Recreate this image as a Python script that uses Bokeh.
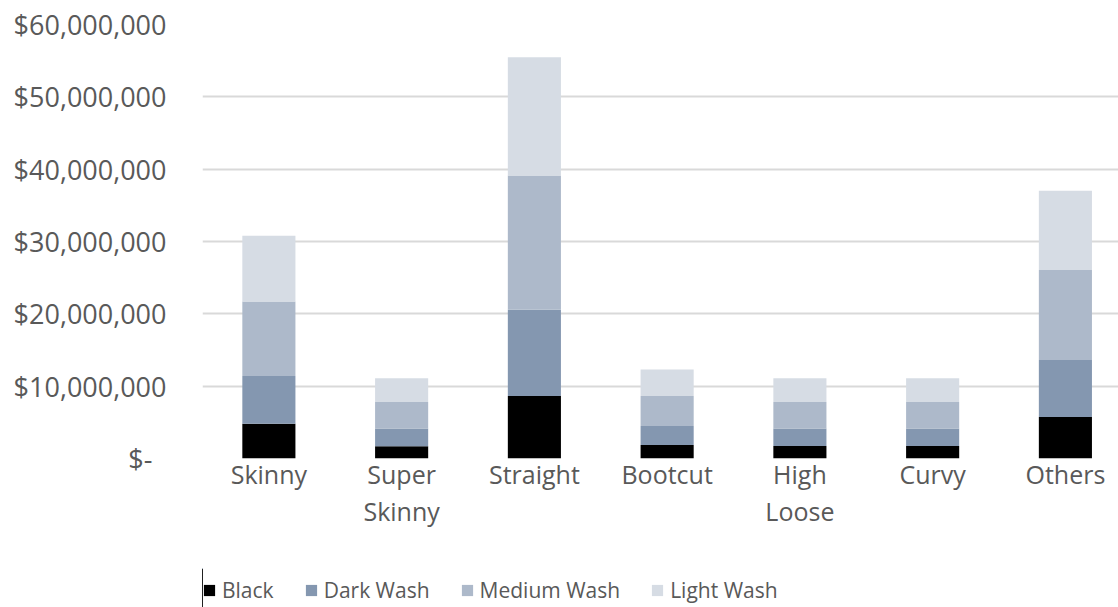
from bokeh.plotting import figure
from bokeh.layouts import column
from bokeh.models import (Range1d, FixedTicker, NumeralTickFormatter, Legend, LegendItem,
                          ColumnDataSource)
from bokeh.embed import file_html
from bokeh.resources import INLINE

# Jeans revenue by fit, split by wash
categories = ["Skinny", "Super Skinny", "Straight", "Bootcut", "High Loose", "Curvy", "Others"]
tick_labels = ["Skinny", "Super\nSkinny", "Straight", "Bootcut", "High\nLoose", "Curvy", "Others"]
black = [4_800_000, 1_700_000, 8_650_000, 1_880_000, 1_720_000, 1_720_000, 5_750_000]
dark_wash = [6_600_000, 2_440_000, 11_930_000, 2_620_000, 2_420_000, 2_420_000, 7_870_000]
medium_wash = [10_300_000, 3_680_000, 18_550_000, 4_150_000, 3_680_000, 3_680_000, 12_430_000]
light_wash = [9_100_000, 3_270_000, 16_340_000, 3_640_000, 3_270_000, 3_270_000, 10_970_000]
y_ticks = [0, 10_000_000, 20_000_000, 30_000_000, 40_000_000, 50_000_000, 60_000_000]

series = ["Black", "Dark Wash", "Medium Wash", "Light Wash"]
colors = ["#000000", "#8497B0", "#ADB9CA", "#D6DCE4"]

xs = list(range(len(categories)))
source = ColumnDataSource(dict(x=xs, cat=categories, Black=black, **{"Dark Wash": dark_wash},
                               **{"Medium Wash": medium_wash}, **{"Light Wash": light_wash}))

FONT = "Open Sans"
GREY = "#595959"

p = figure(width=1118, output_backend="svg", toolbar_location=None,
           x_range=Range1d(-0.5, 6.4), y_range=Range1d(0, 60_000_000),
           min_border_left=202, min_border_right=0, min_border_top=24, min_border_bottom=110,
           frame_height=434, outline_line_color=None, background_fill_color="white")

p.vbar_stack(series, x="x", width=0.4, color=colors, line_color=None, source=source)

# axes
p.yaxis.ticker = FixedTicker(ticks=y_ticks)
p.yaxis.formatter = NumeralTickFormatter(format="$0,0")
p.yaxis.major_label_overrides = {0: "$-\u00a0\u00a0"}
p.yaxis.axis_line_color = None
p.yaxis.major_tick_line_color = None
p.yaxis.minor_tick_line_color = None
p.yaxis.major_label_standoff = 30
p.yaxis.major_label_text_font = FONT
p.yaxis.major_label_text_font_size = "27px"
p.yaxis.major_label_text_color = GREY

p.xaxis.ticker = FixedTicker(ticks=xs)
p.xaxis.major_label_overrides = {i: t for i, t in zip(xs, tick_labels)}
p.xaxis.axis_line_color = None
p.xaxis.major_tick_line_color = None
p.xaxis.minor_tick_line_color = None
p.xaxis.major_label_standoff = -8
p.xaxis.major_label_text_font = FONT
p.xaxis.major_label_text_font_size = "25px"
p.xaxis.major_label_text_color = GREY
p.xaxis.major_label_text_line_height = 1.1

p.xgrid.grid_line_color = None
p.ygrid.grid_line_color = "#D9D9D9"
p.ygrid.grid_line_width = 2

# legend strip under the chart; it shares the bar source but its x range lies far
# from the bars, so only the legend swatches and labels appear
lf = figure(width=1118, height=39, output_backend="svg", toolbar_location=None,
            x_range=Range1d(100, 107), y_range=Range1d(0, 1),
            x_axis_type=None, y_axis_type=None,
            min_border=0, outline_line_color=None)
lf.xgrid.grid_line_color = None
lf.ygrid.grid_line_color = None
swatches = lf.vbar_stack(series, x="x", width=0.4, color=colors, line_color=None, source=source)
legend = Legend(items=[LegendItem(label=s, renderers=[r]) for s, r in zip(series, swatches)],
                orientation="horizontal", location=(0, 3),
                label_text_font=FONT, label_text_font_size="21px", label_text_color=GREY,
                glyph_width=14, glyph_height=14, label_standoff=6, spacing=30,
                padding=0, margin=0, border_line_color=None, background_fill_alpha=0)
lf.add_layout(legend, "center")

open("out.html", "w").write(file_html(column(p, lf, spacing=0), INLINE))
